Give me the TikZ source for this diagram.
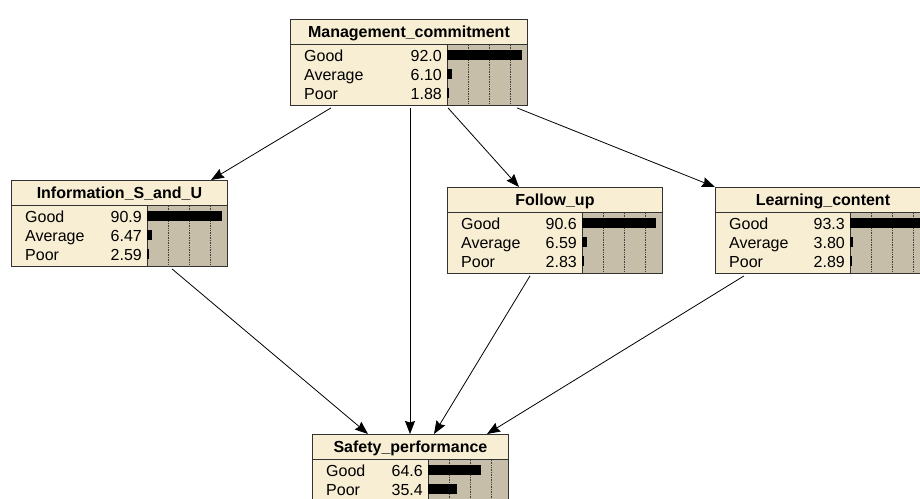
\documentclass[tikz,border=0pt]{standalone}
\usepackage{fontspec}
\setmainfont{Liberation Sans}
\usetikzlibrary{calc,arrows.meta}
\definecolor{nodefill}{RGB}{248,238,211}
\definecolor{barfill}{RGB}{199,190,170}
\definecolor{boxline}{RGB}{50,50,50}
\tikzset{%
  link/.style = {-{Stealth[length=13pt,width=10pt,inset=1.5pt]},line width=0.8pt},
  nodebox/.style = {rectangle,draw=boxline,fill=nodefill,line width=0.9pt,
        inner sep=0pt,anchor=north west},
  barbox/.style = {rectangle,draw=boxline,fill=barfill,line width=0.9pt,
        inner sep=0pt,minimum width=80pt},
  grid/.style = {densely dotted,black!75,line width=0.7pt},
  ttl/.style = {font=\bfseries\fontsize{16}{18}\selectfont,inner sep=0pt,anchor=base},
  lbl/.style = {font=\fontsize{16}{18}\selectfont,inner sep=0pt,anchor=base west},
  val/.style = {font=\fontsize{16}{18}\selectfont,inner sep=0pt,anchor=base east},
  bar/.style = {fill=black}
}
% #1 name, (#2,#3) top left corner, #4 width, #5 title, #6 number of states, #7 states
\newcommand{\bnnode}[7]{%
  \node[nodebox,minimum width=#4,minimum height={29+19*#6}] (#1) at (#2,#3) {};
  \draw[boxline,line width=0.9pt] ($(#1.north west)+(0,25)$) -- ($(#1.north east)+(0,25)$);
  \node[ttl] (#1-title) at ($(#1.north)+(0,18.5)$) {#5};
  \node[barbox,minimum height={4+19*#6},anchor=south east] (#1-bars) at (#1.south east) {};
  \foreach \k in {21,42,63}
    \draw[grid] ($(#1-bars.north west)+(\k,1)$) -- ($(#1-bars.south west)+(\k,-1)$);
  \foreach \lab/\val [count=\i] in {#7} {
    \fill[bar] ($(#1-bars.north west)+(0,19*\i-13)$) rectangle ++(\val*0.82,10);
    \node[lbl] at ($(#1.north west)+(14,25+19*\i-2)$) {\lab};
    \node[val] at ($(#1-bars.north west)+(-5,19*\i-2)$) {\val};
  }
}
\begin{document}
\begin{tikzpicture}[x=1pt,y=-1pt]
\useasboundingbox (0,0) rectangle (920,498);
\clip (0,0) rectangle (920,498);
\fill[white] (0,0) rectangle (920,498);

\bnnode{mc}{290}{19}{237}{Management\_commitment}{3}{Good/92.0,Average/6.10,Poor/1.88}
\bnnode{info}{11}{180}{216}{Information\_S\_and\_U}{3}{Good/90.9,Average/6.47,Poor/2.59}
\bnnode{follow}{447}{187}{215}{Follow\_up}{3}{Good/90.6,Average/6.59,Poor/2.83}
\bnnode{learn}{715}{187}{215}{Learning\_content}{3}{Good/93.3,Average/3.80,Poor/2.89}
\bnnode{safety}{312}{434}{196}{Safety\_performance}{2}{Good/64.6,Poor/35.4}

\draw[link] ($(mc.south west)+(41,2)$) -- ($(info.north west)+(200,0)$);
\draw[link] ($(mc.south west)+(120,2)$) -- ($(safety.north west)+(98,0)$);
\draw[link] ($(mc.south west)+(158,2)$) -- ($(follow.north west)+(72,0)$);
\draw[link] ($(mc.south west)+(227,2)$) -- (learn.north west);
\draw[link] ($(info.south west)+(161,2)$) -- ($(safety.north west)+(56,0)$);
\draw[link] ($(follow.south west)+(83,2)$) -- ($(safety.north west)+(122,0)$);
\draw[link] ($(learn.south west)+(29,2)$) -- ($(safety.north west)+(175,0)$);
\end{tikzpicture}
\end{document}
